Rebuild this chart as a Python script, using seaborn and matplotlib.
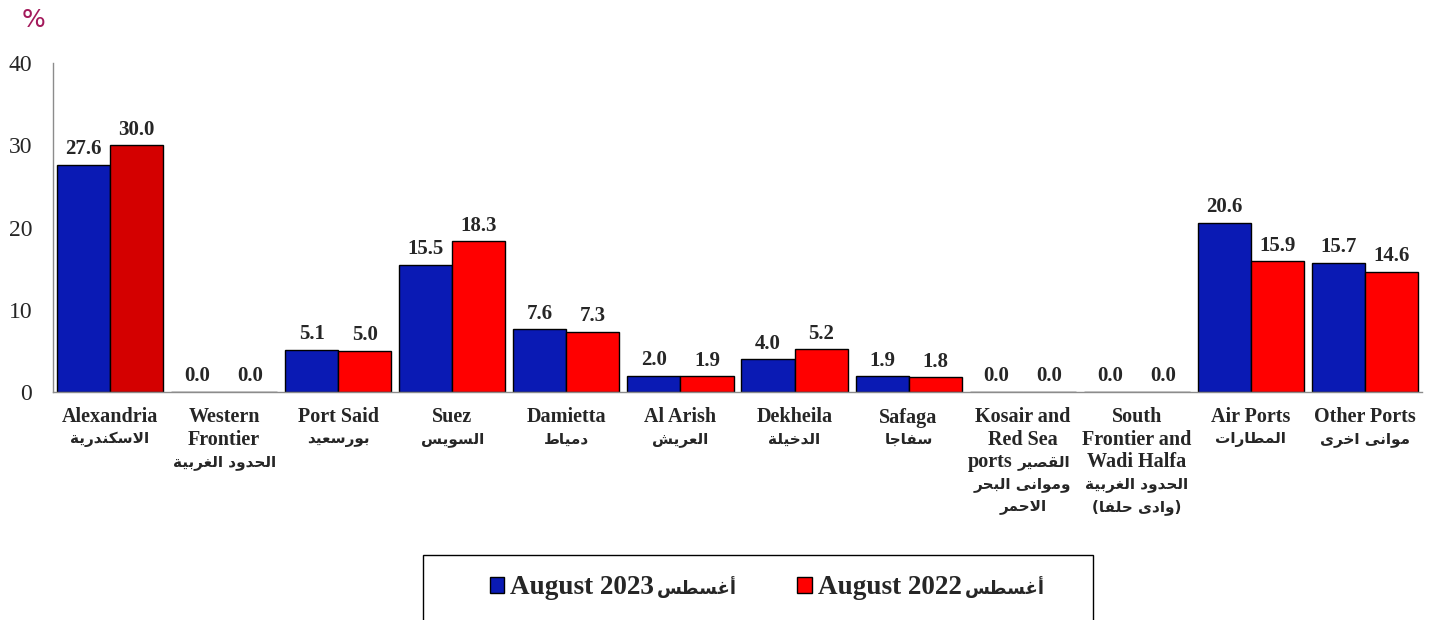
import matplotlib
matplotlib.use("Agg")
import matplotlib.pyplot as plt
from matplotlib.patches import Patch, Rectangle
import seaborn as sns
import numpy as np
import pandas as pd

# data
ports_en = ['Alexandria', 'Western\nFrontier', 'Port Said', 'Suez', 'Damietta', 'Al Arish',
            'Dekheila', 'Safaga', 'Kosair and\nRed Sea\nports', 'South\nFrontier and\nWadi Halfa',
            'Air Ports', 'Other Ports']
ports_ar = ['الاسكندرية', 'الحدود الغربية', 'بورسعيد', 'السويس', 'دمياط', 'العريش',
            'الدخيلة', 'سفاجا', 'القصير\nوموانى البحر\nالاحمر', 'الحدود الغربية\n(وادى حلفا)',
            'المطارات', 'موانى اخرى']
aug_2023 = [27.6, 0.0, 5.1, 15.5, 7.6, 2.0, 4.0, 1.9, 0.0, 0.0, 20.6, 15.7]
aug_2022 = [30.0, 0.0, 5.0, 18.3, 7.3, 1.9, 5.2, 1.8, 0.0, 0.0, 15.9, 14.6]
series = ['August 2023', 'August 2022']
month_ar = 'أغسطس'
y_ticks = [0, 10, 20, 30, 40]

BLUE = '#0A1AB4'
RED = '#FF0000'
DARK_RED = '#D40000'
GREY = '#8C8C8C'

# minimal arabic shaping (matplotlib has no bidi / joining support)
FORMS = {
    'ا': ('\uFE8D', '\uFE8E', None, None), 'أ': ('\uFE83', '\uFE84', None, None),
    'ب': ('\uFE8F', '\uFE90', '\uFE91', '\uFE92'), 'ة': ('\uFE93', '\uFE94', None, None),
    'ت': ('\uFE95', '\uFE96', '\uFE97', '\uFE98'), 'ج': ('\uFE9D', '\uFE9E', '\uFE9F', '\uFEA0'),
    'ح': ('\uFEA1', '\uFEA2', '\uFEA3', '\uFEA4'), 'خ': ('\uFEA5', '\uFEA6', '\uFEA7', '\uFEA8'),
    'د': ('\uFEA9', '\uFEAA', None, None), 'ر': ('\uFEAD', '\uFEAE', None, None),
    'س': ('\uFEB1', '\uFEB2', '\uFEB3', '\uFEB4'), 'ش': ('\uFEB5', '\uFEB6', '\uFEB7', '\uFEB8'),
    'ص': ('\uFEB9', '\uFEBA', '\uFEBB', '\uFEBC'), 'ط': ('\uFEC1', '\uFEC2', '\uFEC3', '\uFEC4'),
    'ع': ('\uFEC9', '\uFECA', '\uFECB', '\uFECC'), 'غ': ('\uFECD', '\uFECE', '\uFECF', '\uFED0'),
    'ف': ('\uFED1', '\uFED2', '\uFED3', '\uFED4'), 'ق': ('\uFED5', '\uFED6', '\uFED7', '\uFED8'),
    'ك': ('\uFED9', '\uFEDA', '\uFEDB', '\uFEDC'), 'ل': ('\uFEDD', '\uFEDE', '\uFEDF', '\uFEE0'),
    'م': ('\uFEE1', '\uFEE2', '\uFEE3', '\uFEE4'), 'ن': ('\uFEE5', '\uFEE6', '\uFEE7', '\uFEE8'),
    'ه': ('\uFEE9', '\uFEEA', '\uFEEB', '\uFEEC'), 'و': ('\uFEED', '\uFEEE', None, None),
    'ى': ('\uFEEF', '\uFEF0', None, None), 'ي': ('\uFEF1', '\uFEF2', '\uFEF3', '\uFEF4'),
}
LAM_ALEF = {'ا': ('\uFEFB', '\uFEFC'), 'أ': ('\uFEF7', '\uFEF8')}


def dual(c):
    return c in FORMS and FORMS[c][2] is not None


def shape(text):
    out = []
    i, n = 0, len(text)
    while i < n:
        c = text[i]
        if c not in FORMS:
            out.append(c)
            i += 1
            continue
        joins_prev = i > 0 and dual(text[i - 1])
        if c == 'ل' and i + 1 < n and text[i + 1] in LAM_ALEF:
            out.append(LAM_ALEF[text[i + 1]][1 if joins_prev else 0])
            i += 2
            continue
        joins_next = dual(c) and i + 1 < n and text[i + 1] in FORMS
        f = FORMS[c]
        if joins_prev and joins_next:
            out.append(f[3])
        elif joins_prev:
            out.append(f[1])
        elif joins_next:
            out.append(f[2])
        else:
            out.append(f[0])
        i += 1
    mirror = {'(': ')', ')': '('}
    return ''.join(mirror.get(ch, ch) for ch in reversed(out))


df = pd.DataFrame({
    'port': ports_en * 2,
    'value': aug_2023 + aug_2022,
    'period': [series[0]] * len(aug_2023) + [series[1]] * len(aug_2022),
})

sns.set_style('white')
plt.rcParams['font.family'] = ['Liberation Serif', 'DejaVu Sans']

fig = plt.figure(figsize=(14.39, 6.2), dpi=100)
ax = fig.add_axes([53 / 1439, 1 - 392 / 620, (1422 - 53) / 1439, (392 - 63) / 620])

sns.barplot(data=df, x='port', y='value', hue='period', hue_order=series,
            palette=[BLUE, RED], width=0.93, gap=0, edgecolor='black', linewidth=1,
            saturation=1, legend=False, ax=ax)
ax.containers[1].patches[0].set_facecolor(DARK_RED)

for cont in ax.containers:
    ax.bar_label(cont, fmt='%.1f', padding=4, fontsize=15, fontweight='bold')

ax.set_xlim(-0.5, len(ports_en) - 0.5)
ax.set_ylim(0, 40)
ax.set_yticks(y_ticks)
ax.set_yticklabels([str(t) for t in y_ticks], fontsize=17)
ax.set_xticks(np.arange(-0.5, len(ports_en)))
ax.set_xticklabels([])
ax.tick_params(axis='x', length=6, color=GREY, width=1)
ax.tick_params(axis='y', length=6, color=GREY, width=1, pad=9)
ax.set_xlabel('')
ax.set_ylabel('')
for side in ['top', 'right']:
    ax.spines[side].set_visible(False)
for side in ['left', 'bottom']:
    ax.spines[side].set_color(GREY)
    ax.spines[side].set_linewidth(1)

# category labels: english in serif bold, arabic (shaped) in DejaVu Sans bold
PX = 0.72  # points per pixel at dpi 100


def put(i, line_no, text, arabic, dx=0, ha='center'):
    ax.annotate(text, xy=(i, 0), xycoords=('data', 'axes fraction'),
                xytext=(dx * PX, -(25.5 + 22.3 * line_no) * PX), textcoords='offset points',
                ha=ha, va='center', fontweight='bold',
                fontsize=11 if arabic else 14.5,
                family='DejaVu Sans' if arabic else 'Liberation Serif')


for i, (en, ar) in enumerate(zip(ports_en, ports_ar)):
    en_lines = en.split('\n')
    ar_lines = ar.split('\n')
    k = 0
    for line in en_lines[:-1]:
        put(i, k, line, False)
        k += 1
    if i == 8:
        # last english word and first arabic word share a line
        put(i, k, en_lines[-1], False, dx=-10, ha='right')
        put(i, k, shape(ar_lines[0]), True, dx=-5, ha='left')
        ar_lines = ar_lines[1:]
    else:
        put(i, k, en_lines[-1], False)
    k += 1
    for line in ar_lines:
        put(i, k, shape(line), True)
        k += 1

fig.text(22 / 1439, 1 - 20 / 620, '%', color='#A3195B', fontsize=18,
         family='DejaVu Sans', va='center', ha='left')

# legend
fig.add_artist(Rectangle((423 / 1439, -0.1), 670 / 1439, 0.1 + 65 / 620,
                         transform=fig.transFigure, fill=False, edgecolor='black', lw=1))
handles = [Patch(facecolor=BLUE, edgecolor='black', lw=1),
           Patch(facecolor=RED, edgecolor='black', lw=1)]
leg = fig.legend(handles, series, loc='center', bbox_to_anchor=(725.5 / 1439, 1 - 588 / 620),
                 ncol=2, frameon=False, prop={'size': 19.5, 'weight': 'bold'},
                 handlelength=0.55, handleheight=0.55, handletextpad=0.2, columnspacing=5.3)
fig.canvas.draw()
for t in leg.get_texts():
    bb = t.get_window_extent()
    fig.text((bb.x1 + 3) / 1439, (bb.y0 + bb.y1) / 2 / 620 + 0.002, shape(month_ar),
             family='DejaVu Sans', fontweight='bold', fontsize=13, va='center', ha='left')

fig.savefig('out.png', dpi=100)
